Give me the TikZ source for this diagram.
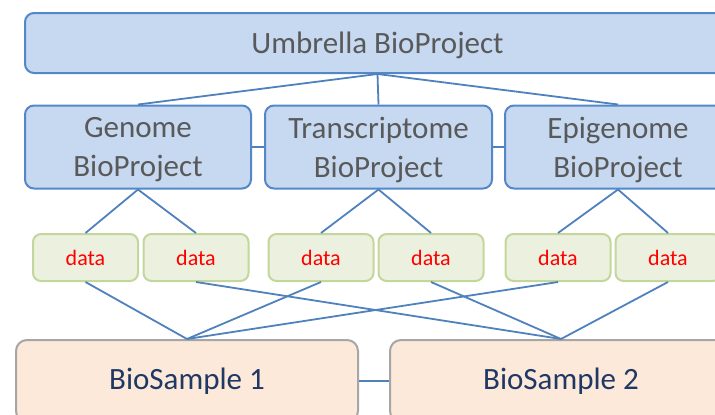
\documentclass[tikz,border=0pt]{standalone}
\usepackage{fontspec}
\setmainfont{Carlito}
\usepackage{tikz}
\definecolor{projfill}{RGB}{198, 217, 241}
\definecolor{projline}{RGB}{84, 135, 200}
\definecolor{datafill}{RGB}{235, 241, 222}
\definecolor{dataline}{RGB}{195, 214, 155}
\definecolor{biofill}{RGB}{252, 233, 218}
\definecolor{bioline}{RGB}{166, 166, 166}
\definecolor{graytext}{RGB}{89, 89, 89}
\definecolor{navy}{RGB}{31, 56, 100}
\definecolor{link}{RGB}{79, 129, 189}

\begin{document}
\begin{tikzpicture}[x=1pt, y=-1pt, line width=2pt,
    project/.style={draw=projline, fill=projfill, rounded corners=9pt,
      text=graytext, align=center, inner sep=0pt, text depth=0pt,
      font=\fontsize{31}{39}\selectfont},
    datum/.style={draw=dataline, fill=datafill, rounded corners=8pt,
      text=red, inner sep=0pt, minimum width=105pt, minimum height=47pt,
      font=\fontsize{22}{26}\selectfont},
    sample/.style={draw=bioline, fill=biofill, rounded corners=11pt,
      text=navy, inner sep=0pt, minimum width=342pt, minimum height=82pt,
      font=\fontsize{31}{38}\selectfont},
    wire/.style={draw=link, line width=1.8pt}]

  \useasboundingbox (0, 0) rectangle (715, 415);
  \clip (0, 0) rectangle (715, 415);

  % projects
  \node[project, minimum width=705pt, minimum height=60pt] (umbrella)
    at (377.5, 43) {Umbrella BioProject};
  \node[project, minimum width=226pt, minimum height=83pt] (genome)
    at (138, 147) {Genome\\BioProject};
  \node[project, minimum width=227pt, minimum height=83pt] (transcriptome)
    at (378.5, 147) {Transcriptome\\BioProject};
  \node[project, minimum width=226pt, minimum height=83pt] (epigenome)
    at (618, 147) {Epigenome\\BioProject};

  % data
  \node[datum] (data1) at (85.5, 257.5) {data};
  \node[datum] (data2) at (196, 257.5) {data};
  \node[datum] (data3) at (321, 257.5) {data};
  \node[datum] (data4) at (431, 257.5) {data};
  \node[datum] (data5) at (558, 257.5) {data};
  \node[datum] (data6) at (668, 257.5) {data};

  % samples
  \node[sample] (sample1) at (187, 381) {BioSample 1};
  \node[sample] (sample2) at (561, 381) {BioSample 2};

  % links
  \draw[wire] (umbrella.south) -- (genome.north);
  \draw[wire] (umbrella.south) -- (transcriptome.north);
  \draw[wire] (umbrella.south) -- (epigenome.north);
  \draw[wire] (genome.east) -- (transcriptome.west);
  \draw[wire] (transcriptome.east) -- (epigenome.west);

  \draw[wire] (genome.south) -- (data1.north);
  \draw[wire] (genome.south) -- (data2.north);
  \draw[wire] (transcriptome.south) -- (data3.north);
  \draw[wire] (transcriptome.south) -- (data4.north);
  \draw[wire] (epigenome.south) -- (data5.north);
  \draw[wire] (epigenome.south) -- (data6.north);

  \draw[wire] (data1.south) -- (sample1.north);
  \draw[wire] (data3.south) -- (sample1.north);
  \draw[wire] (data5.south) -- (sample1.north);
  \draw[wire] (data2.south) -- (sample2.north);
  \draw[wire] (data4.south) -- (sample2.north);
  \draw[wire] (data6.south) -- (sample2.north);
  \draw[wire] (sample1.east) -- (sample2.west);

\end{tikzpicture}
\end{document}
